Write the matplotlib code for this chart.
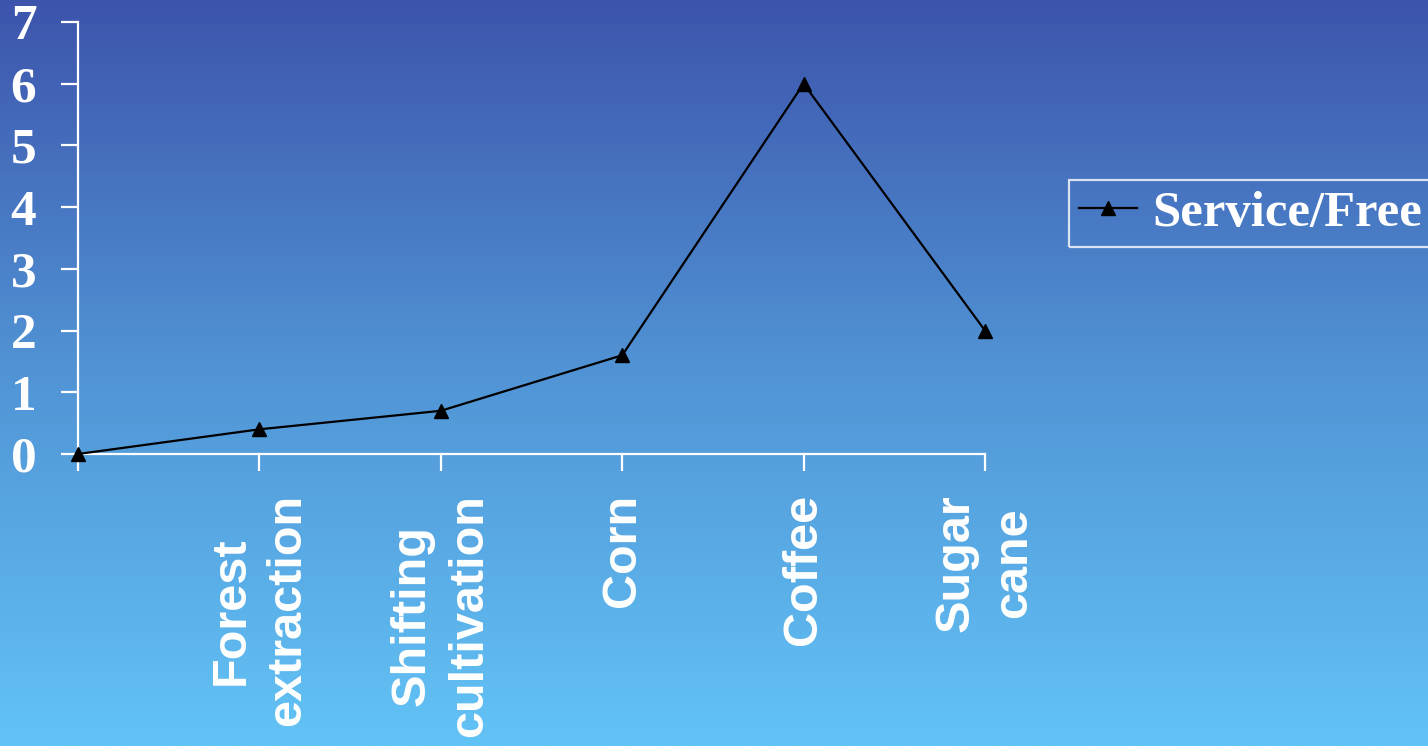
import numpy as np
import matplotlib.pyplot as plt
from matplotlib.colors import LinearSegmentedColormap

# data
categories = ['', 'Forest\nextraction', 'Shifting\ncultivation', 'Corn', 'Coffee', 'Sugar\ncane']
values = [0, 0.4, 0.7, 1.6, 6.0, 2.0]
yticks = [0, 1, 2, 3, 4, 5, 6, 7]
series_name = 'Service/Free'

fig = plt.figure(figsize=(14.28, 7.46), dpi=100)

# gradient background
bg = fig.add_axes([0, 0, 1, 1], zorder=-10)
cmap = LinearSegmentedColormap.from_list('bg', [(0, '#3D54AC'), (0.5, '#5194D5'), (1, '#62C3F6')])
grad = np.linspace(0, 1, 256).reshape(-1, 1)
bg.imshow(grad, aspect='auto', cmap=cmap, extent=[0, 1, 0, 1], origin='upper')
bg.axis('off')

ax = fig.add_axes([78 / 1428, 1 - 454 / 746, (985 - 78) / 1428, (454 - 22) / 746])
ax.patch.set_alpha(0)

x = np.arange(len(categories))
line, = ax.plot(x, values, color='black', lw=1.6, marker='^', markersize=10,
                label=series_name, clip_on=False, zorder=5)

ax.set_xlim(0, len(categories) - 1)
ax.set_ylim(0, 7)
ax.set_xticks(x)
ax.set_xticklabels(categories, rotation=90, fontsize=35, fontweight='bold',
                   family='Liberation Sans', color='white', linespacing=1.35,
                   ha='center', va='top')
ax.set_yticks(yticks)
ax.set_yticklabels([str(t) for t in yticks], fontsize=37, fontweight='bold',
                   family='Liberation Serif', color='white')

for s in ['top', 'right']:
    ax.spines[s].set_visible(False)
for s in ['left', 'bottom']:
    ax.spines[s].set_color('white')
    ax.spines[s].set_linewidth(1.6)
ax.tick_params(axis='y', length=12, width=1.6, color='white', pad=18)
ax.tick_params(axis='x', length=12, width=1.6, color='white', pad=17)

leg = fig.legend(handles=[line], loc='upper left', bbox_to_anchor=(1069 / 1428, 1 - 180 / 746),
                 borderaxespad=0, frameon=True, fancybox=False, handlelength=1.15,
                 borderpad=0.2, handletextpad=0.3,
                 prop={'family': 'Liberation Serif', 'weight': 'bold', 'size': 36.5})
leg.get_frame().set_facecolor('none')
leg.get_frame().set_edgecolor('white')
leg.get_frame().set_linewidth(1.6)
for t in leg.get_texts():
    t.set_color('white')

fig.savefig('out.png', dpi=100)
